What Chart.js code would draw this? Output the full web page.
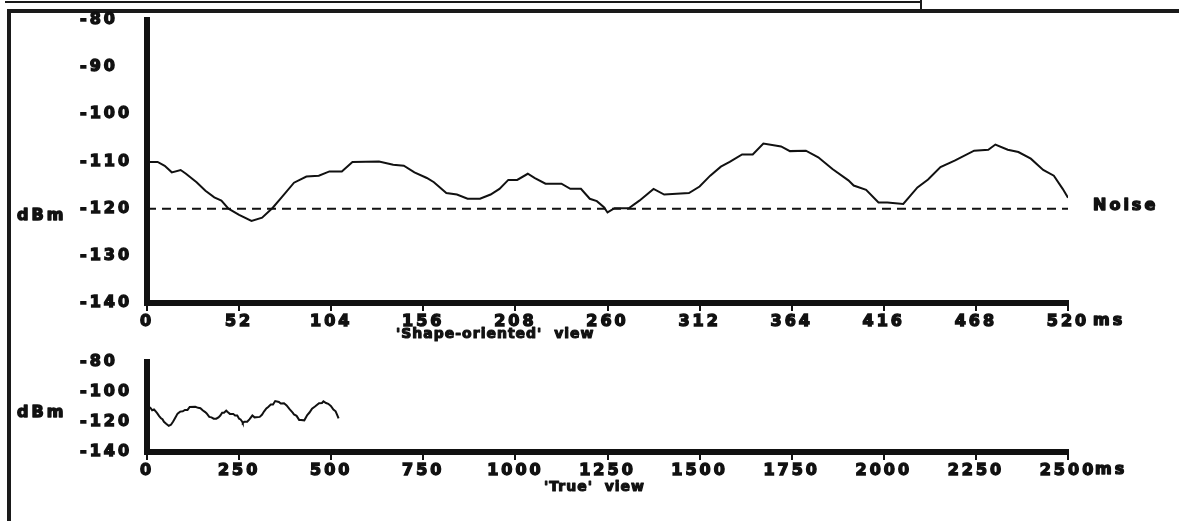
<!DOCTYPE html>
<html>
<head>
<meta charset="utf-8">
<title>'Shape-oriented' view / 'True' view</title>
<script src="https://cdn.jsdelivr.net/npm/chart.js"></script>
<style>
  body { margin: 0; background: #fff; }
  #page { position: relative; width: 1179px; height: 521px; overflow: hidden; background: #fff; }
  canvas { position: absolute; left: 0; }
  #shapeChart { top: 0; }
  #trueChart { top: 346px; }
  .rule { position: absolute; background: #1a1a1a; }
</style>
</head>
<body>
<div id="page">
  <div class="rule" style="left:5px;top:1px;width:917px;height:2px"></div>
  <div class="rule" style="left:920px;top:0;width:2px;height:10px"></div>
  <div class="rule" style="left:7px;top:9px;width:1172px;height:4px"></div>
  <div class="rule" style="left:7px;top:9px;width:4px;height:512px"></div>
  <canvas id="shapeChart" width="1179" height="352"></canvas>
  <canvas id="trueChart" width="1179" height="175"></canvas>
</div>
<script>
// received level trace (ms, dBm)
const timeMs = [0, 6, 10, 14, 19, 22, 28, 33, 38, 42,
  46, 52, 59, 65, 71, 76, 83, 90, 97, 103,
  110, 116, 131, 139, 145, 151, 158, 162, 169, 175,
  181, 188, 194, 199, 204, 209, 215, 219, 225, 234,
  239, 245, 250, 254, 258, 260, 264, 272, 278, 286,
  292, 306, 312, 318, 324, 329, 336, 342, 348, 358,
  363, 372, 379, 387, 396, 399, 406, 413, 418, 427,
  435, 441, 448, 456, 467, 475, 479, 486, 492, 499,
  506, 512, 517, 520];
const levelDbm = [-110.1, -110.1, -110.9, -112.3, -111.8, -112.6, -114.4, -116.2, -117.6, -118.3,
  -120.0, -121.3, -122.6, -121.9, -119.8, -117.6, -114.5, -113.2, -113.0, -112.1,
  -112.1, -110.1, -110.0, -110.7, -110.9, -112.3, -113.5, -114.4, -116.7, -117.0,
  -117.9, -117.9, -117.0, -115.8, -113.9, -113.9, -112.6, -113.5, -114.7, -114.7,
  -115.8, -115.8, -117.9, -118.4, -119.7, -120.8, -119.9, -119.9, -118.3, -115.8,
  -117.0, -116.7, -115.3, -113.0, -111.1, -110.1, -108.5, -108.5, -106.2, -106.8,
  -107.8, -107.7, -109.1, -111.6, -114.0, -115.1, -116.0, -118.7, -118.7, -119.0,
  -115.5, -113.8, -111.2, -109.8, -107.7, -107.5, -106.4, -107.5, -108.0, -109.4,
  -111.8, -113.0, -115.8, -117.7];

const noiseDbm = -120;
const noiseSpanMs = [0, 520];

const shapeTicksX = [0, 52, 104, 156, 208, 260, 312, 364, 416, 468, 520];
const shapeTicksY = [-140, -130, -120, -110, -100, -90, -80];
const trueTicksX = [0, 250, 500, 750, 1000, 1250, 1500, 1750, 2000, 2250, 2500];
const trueTicksY = [-140, -120, -100, -80];

const INK = '#111';
const FONT = { family: '"DejaVu Sans", sans-serif', size: 16, weight: 'bold' };
const FONT_CSS = 'bold 16px "DejaVu Sans", sans-serif';
const SPACING = '3px';
const HEAVY = 1.4;   // extra stroke on text, the plotter font is very heavy

const trace = timeMs.map((t, i) => ({ x: t, y: levelDbm[i] }));
const noise = noiseSpanMs.map(t => ({ x: t, y: noiseDbm }));

// wide pixel-font look: canvas letter spacing, reset after every canvas resize
const wideText = {
  id: 'wideText',
  beforeUpdate(chart) { chart.ctx.letterSpacing = SPACING; },
  beforeDraw(chart) { chart.ctx.letterSpacing = SPACING; }
};

function heavyText(ctx, str, x, y) {
  ctx.strokeText(str, x, y);
  ctx.fillText(str, x, y);
}

const panelText = {
  id: 'panelText',
  afterDraw(chart, args, o) {
    const ctx = chart.ctx;
    const x = chart.scales.x, y = chart.scales.y;
    ctx.save();
    ctx.letterSpacing = SPACING;
    ctx.font = FONT_CSS;
    ctx.fillStyle = INK;
    ctx.strokeStyle = INK;
    ctx.lineWidth = HEAVY;
    ctx.lineJoin = 'round';
    ctx.textBaseline = 'middle';
    ctx.textAlign = 'left';
    heavyText(ctx, 'dBm', 17, y.getPixelForValue(o.unitAt));
    heavyText(ctx, 'ms', x.right + o.msGap, x.top + o.labelDrop);
    if (o.noise) {
      heavyText(ctx, 'Noise', x.right + 25, y.getPixelForValue(noiseDbm) - 3);
    }
    // axis caption is set tighter than the tick numbers
    ctx.letterSpacing = '1px';
    ctx.lineWidth = 1.1;
    ctx.font = 'bold 14px "DejaVu Sans", sans-serif';
    heavyText(ctx, o.title, o.titleLeft, x.top + o.titleDrop);
    ctx.restore();
  }
};

function axes(ticksX, ticksY, xHeight) {
  return {
    x: {
      type: 'linear',
      min: ticksX[0],
      max: ticksX[ticksX.length - 1],
      afterFit: s => { s.height = xHeight; },
      ticks: {
        stepSize: ticksX[1] - ticksX[0],
        color: INK, font: FONT, padding: 1,
        textStrokeColor: INK, textStrokeWidth: HEAVY,
        maxRotation: 0, autoSkip: false,
        callback: v => String(v)
      },
      grid: { display: true, drawOnChartArea: false, drawTicks: true, tickLength: 8, lineWidth: 2, color: INK },
      border: { display: true, color: INK, width: 6 }
    },
    y: {
      min: ticksY[0],
      max: ticksY[ticksY.length - 1],
      // labels start flush at the left of the axis box
      afterFit: s => { s.width = 67; },
      ticks: {
        stepSize: ticksY[1] - ticksY[0],
        color: INK, font: FONT, padding: 6, crossAlign: 'far',
        textStrokeColor: INK, textStrokeWidth: HEAVY,
        callback: v => String(v)
      },
      grid: { display: false, drawTicks: false },
      border: { display: true, color: INK, width: 6 }
    }
  };
}

const common = {
  responsive: false,
  animation: false,
  events: [],
  plugins: { legend: { display: false }, tooltip: { enabled: false } },
  elements: { point: { radius: 0 }, line: { tension: 0 } }
};

new Chart('shapeChart', {
  type: 'line',
  data: {
    datasets: [
      { data: trace, borderColor: INK, borderWidth: 2 },
      { data: noise, borderColor: INK, borderWidth: 2, borderDash: [9, 6] }
    ]
  },
  options: Object.assign({}, common, {
    layout: { padding: { left: 80, right: 111, top: 20, bottom: 0 } },
    scales: axes(shapeTicksX, shapeTicksY, 49),
    plugins: Object.assign({}, common.plugins, {
      panelText: { unitAt: -121.5, msGap: 25, labelDrop: 18, title: "'Shape-oriented'  view", titleLeft: 396, titleDrop: 31, noise: true }
    })
  }),
  plugins: [wideText, panelText]
});

new Chart('trueChart', {
  type: 'line',
  data: {
    datasets: [
      { data: trace, borderColor: INK, borderWidth: 2 }
    ]
  },
  options: Object.assign({}, common, {
    layout: { padding: { left: 80, right: 111, top: 11, bottom: 0 } },
    scales: axes(trueTicksX, trueTicksY, 69),
    plugins: Object.assign({}, common.plugins, {
      panelText: { unitAt: -114, msGap: 27, labelDrop: 18, title: "'True'  view", titleLeft: 544, titleDrop: 35, noise: false }
    })
  }),
  plugins: [wideText, panelText]
});
</script>
</body>
</html>
